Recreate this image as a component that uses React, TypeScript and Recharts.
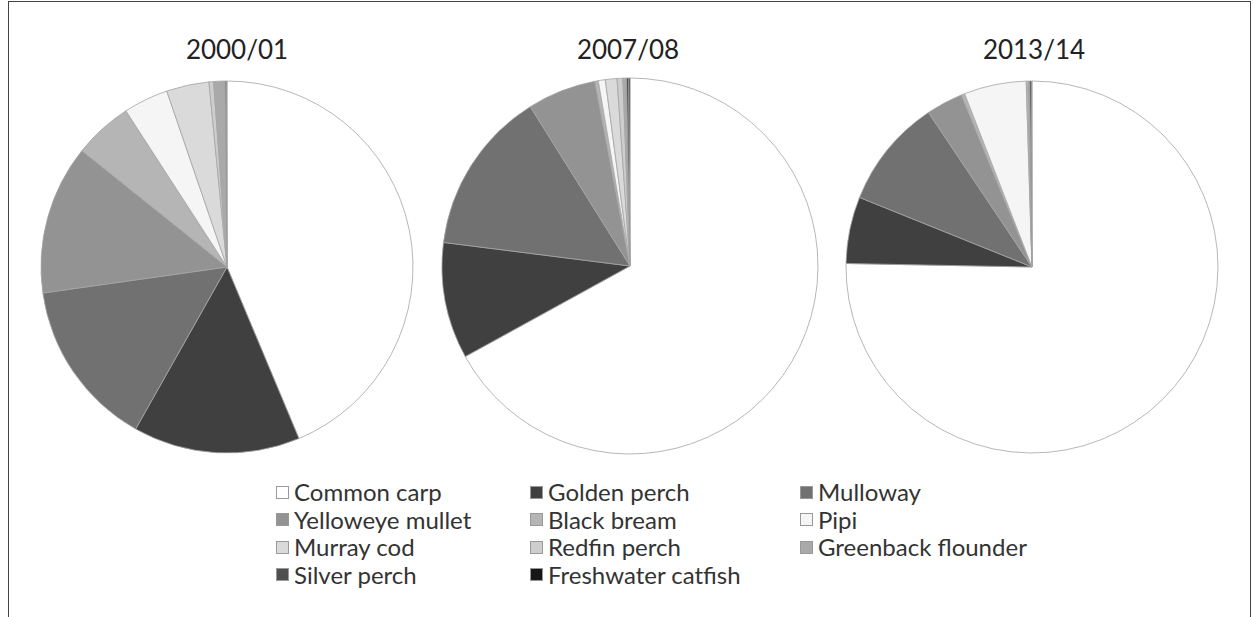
import React from 'react';
import { PieChart, Pie, Cell } from 'recharts';

const species = [
  'Common carp',
  'Golden perch',
  'Mulloway',
  'Yelloweye mullet',
  'Black bream',
  'Pipi',
  'Murray cod',
  'Redfin perch',
  'Greenback flounder',
  'Silver perch',
  'Freshwater catfish'
];

const shades = [
  '#ffffff',
  '#404040',
  '#717171',
  '#939393',
  '#b5b5b5',
  '#f5f5f5',
  '#dadada',
  '#cdcdcd',
  '#a9a9a9',
  '#4f4f4f',
  '#161616'
];

const years = ['2000/01', '2007/08', '2013/14'];

const share2000 = [43.7, 14.5, 14.6, 13.0, 5.1, 3.9, 3.7, 0.4, 1.0, 0.1, 0.05];
const share2007 = [67.0, 10.0, 14.1, 5.9, 0.3, 0.6, 1.0, 0.5, 0.3, 0.2, 0.1];
const share2013 = [75.3, 5.8, 9.5, 3.2, 0.3, 5.4, 0.1, 0.1, 0.1, 0.15, 0.05];

const shares = [share2000, share2007, share2013];
// recharts adds its 5px margin to cx / cy
const centers = [
  { cx: 222, cy: 262, r: 186, titleX: 237 },
  { cx: 625, cy: 261, r: 188, titleX: 628 },
  { cx: 1027, cy: 262, r: 186, titleX: 1034 }
];

const legendCols = [276, 530, 800];
const legendTop = 480;
const rowGap = 27.6;

const font = 'Lato, "Open Sans", sans-serif';

export default function App() {
  return (
    <div
      style={{
        position: 'absolute',
        left: 0,
        top: 0,
        width: 1253,
        height: 617,
        overflow: 'hidden',
        background: '#fff',
        fontFamily: font
      }}
    >
      <div
        style={{
          position: 'absolute',
          left: 8,
          top: 1,
          width: 1241,
          height: 640,
          border: '1px solid #444',
          borderBottom: 'none'
        }}
      />
      <PieChart width={1253} height={617} style={{ position: 'absolute', left: 0, top: 0 }}>
        {shares.map((arr, k) => (
          <Pie
            key={years[k]}
            data={species.map((name, i) => ({ name, value: arr[i] }))}
            dataKey="value"
            nameKey="name"
            cx={centers[k].cx}
            cy={centers[k].cy}
            outerRadius={centers[k].r}
            startAngle={90}
            endAngle={-270}
            stroke="#a4a4a4"
            strokeWidth={0.8}
            isAnimationActive={false}
          >
            {species.map((name, i) => (
              <Cell key={name} fill={shades[i]} />
            ))}
          </Pie>
        ))}
      </PieChart>
      {years.map((y, k) => (
        <div
          key={y}
          style={{
            position: 'absolute',
            left: centers[k].titleX - 80,
            width: 160,
            top: 33,
            textAlign: 'center',
            fontSize: 26,
            color: '#222'
          }}
        >
          {y}
        </div>
      ))}
      {species.map((name, i) => {
        const col = i % 3;
        const row = Math.floor(i / 3);
        return (
          <div
            key={name}
            style={{
              position: 'absolute',
              left: legendCols[col],
              top: legendTop + row * rowGap,
              display: 'flex',
              alignItems: 'center',
              fontSize: 24,
              lineHeight: '24px',
              color: '#333',
              whiteSpace: 'nowrap'
            }}
          >
            <span
              style={{
                display: 'inline-block',
                width: 11,
                height: 11,
                background: shades[i],
                border: '1px solid #999',
                marginRight: 5
              }}
            />
            {name}
          </div>
        );
      })}
    </div>
  );
}
